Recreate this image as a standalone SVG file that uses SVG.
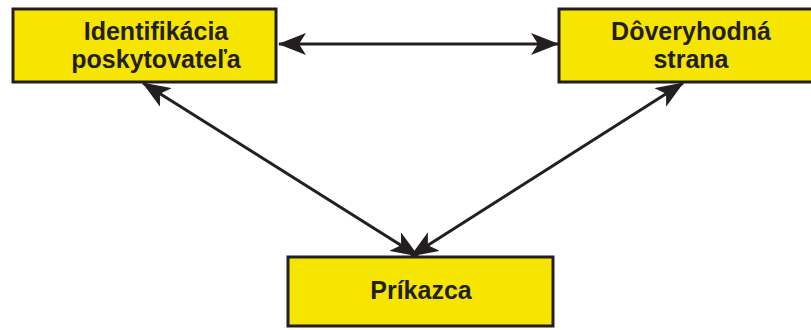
<svg xmlns="http://www.w3.org/2000/svg" width="811" height="330" viewBox="0 0 811 330">
<defs>
<style>
.box{fill:#f6e500;stroke:#231f20;stroke-width:3}
.lbl{font-family:"Liberation Sans",Arial,sans-serif;font-weight:bold;font-size:25px;fill:#231f20;text-anchor:middle}
.conn{stroke:#231f20;stroke-width:3;fill:none;marker-start:url(#ah);marker-end:url(#ah)}
</style>
<marker id="ah" viewBox="0 0 28 22" refX="27" refY="11" markerWidth="28" markerHeight="22" markerUnits="userSpaceOnUse" orient="auto-start-reverse">
<path d="M0,0 L28,11 L0,22 L7,11 Z" fill="#231f20"/>
</marker>
</defs>
<rect width="811" height="330" fill="#ffffff"/>
<g id="identifikacia">
<rect class="box" x="13" y="9" width="263" height="73"/>
<text class="lbl" x="156" y="40">Identifikácia</text>
<text class="lbl" x="156" y="68">poskytovateľa</text>
</g>
<g id="doveryhodna">
<rect class="box" x="559" y="9" width="262" height="73"/>
<text class="lbl" x="691" y="40">Dôveryhodná</text>
<text class="lbl" x="691" y="68">strana</text>
</g>
<g id="prikazca">
<rect class="box" x="288" y="257" width="265" height="69"/>
<text class="lbl" x="421" y="299">Príkazca</text>
</g>
<g id="connectors">
<line class="conn" x1="279" y1="44" x2="558" y2="44"/>
<line class="conn" x1="143" y1="83" x2="418" y2="256"/>
<line class="conn" x1="683" y1="83" x2="411" y2="256"/>
</g>
</svg>
